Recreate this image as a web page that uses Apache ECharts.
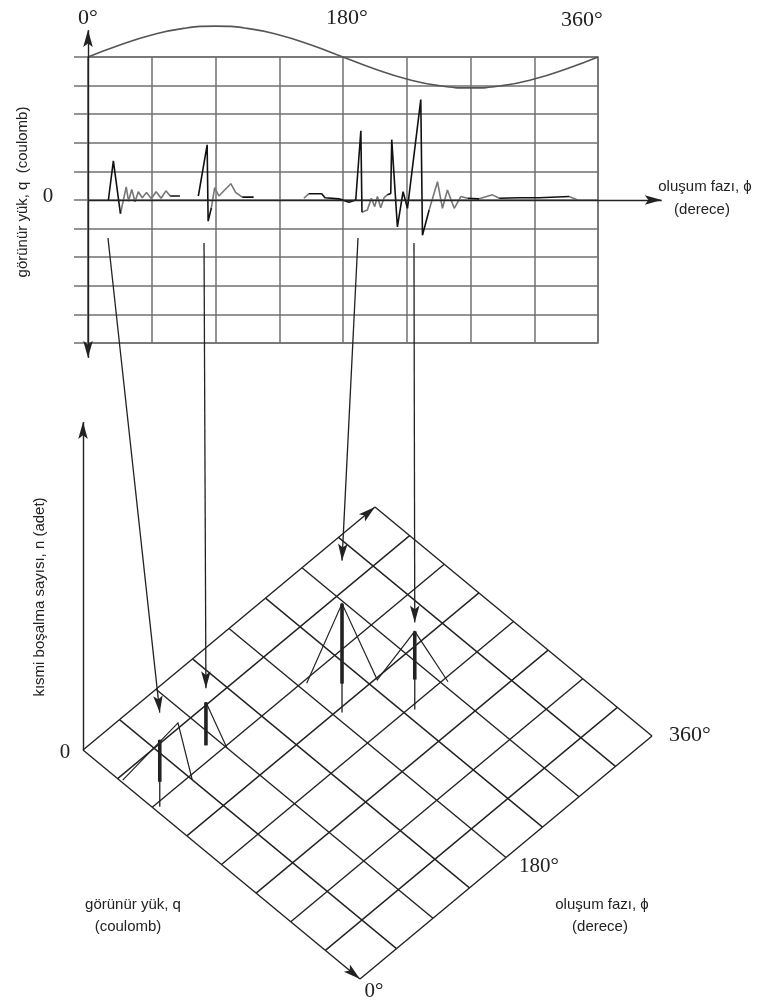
<!DOCTYPE html>
<html>
<head>
<meta charset="utf-8">
<script src="https://cdn.jsdelivr.net/npm/echarts/dist/echarts.min.js"></script>
<style>
html,body{margin:0;padding:0;background:#fff;}
#container{width:762px;height:1005px;}
</style>
</head>
<body>
<div id="container"></div>
<script>
// reference sine (in grid divisions above the top line), read every 22.5 deg
var sinePhase = [0,22.5,45,67.5,90,112.5,135,157.5,180,202.5,225,247.5,270,292.5,315,337.5,360];
var sineRef   = [0,0.42,0.77,1.0,1.08,1.0,0.77,0.42,0,-0.42,-0.77,-1.0,-1.08,-1.0,-0.77,-0.42,0];

// top trace, [phase deg, charge div]
var pulseBlack = [
  [[14.4,0],[17.9,1.37],[22.9,-0.48]],
  [[58,0.14],[64.9,0.14]],
  [[77.9,0.14],[84.1,1.93],[84.8,-0.74],[87.1,-0.27]],
  [[108.9,0.1],[116.9,0.1]],
  [[155.9,0.22],[165,0.22],[167.3,0.08],[177.2,0.04],[184.2,-0.08],[189,0],[192.6,2.42],[193.4,-0.43]],
  [[211.3,0.18],[213.7,0.23],[214.4,2.11],[218.4,-0.94],[222.4,0.29],[225.5,-0.29],[234.9,3.51],[236.1,-1.23],[240.8,-0.35]],
  [[267.9,0.06],[276.1,0.04]],
  [[290.3,0.06],[304.4,0.08],[318.5,0.08],[339.7,0.12]]
];
var pulseGray = [
  [[22.9,-0.48],[27,0.46],[28.6,-0.04],[30.9,0.37],[33.2,-0.06],[35.5,0.29],[38.3,0.08],[41.3,0.26],[44.7,0.05],[48.1,0.29],[51.6,0.06],[55,0.32],[58,0.14]],
  [[87.1,-0.27],[89.4,0.43],[92.4,0.14],[100.8,0.57],[104.3,0.26],[108.9,0.1]],
  [[152.4,0.06],[155.9,0.22]],
  [[193.4,-0.43],[197.2,-0.35],[200,0.06],[202.4,-0.23],[204.3,0.12],[206.6,-0.27],[209,0.08],[211.3,0.18]],
  [[240.8,-0.35],[246.7,0.64],[250.2,-0.29],[253.7,0.35],[258.5,-0.29],[263.2,0.12],[267.9,0.06]],
  [[276.1,0.04],[285.5,0.18],[290.3,0.06]],
  [[339.7,0.12],[345.6,0]]
];

// 3d part: phase deg, charge cell (0..8), count n
var stickPhase    = [5, 79, 187, 234];
var stickCharge   = [2.1, 1.7, 3.1, 4.1];
var stickCount    = [2.04, 1.31, 3.32, 2.38];
var stickThickLow = [0.76, 0, 0.88, 0.91];
var envelopes = [
  [[2,1.1,0],[42,1.76,1.5],[45,2.1,0]],
  [[79,1.7,1.31],[90,2.05,0]],
  [[187,2.08,0],[187,3.1,3.32],[233,3.04,0],[234,4.1,2.38],[275,4.1,0]]
];
// arrows: from top [phase, charge] to bottom [phase, charge, n]
var arrowFrom = [[14.1,-1.33],[81.9,-1.5],[190.6,-1.33],[230.1,-1.5]];
var arrowTo   = [[5,2.1,2.87],[79,1.7,1.74],[187,3.1,4.63],[234,4.1,2.65]];

var phaseCells = 8, chargeCells = 8, nMax = 10;

// oblique projection of the base plane
var orig = [83, 750], phVec = [292/360, -243/360], qVec = [34.625, 28.625], nPx = 32.8;
function proj(p){
  return [orig[0] + p[0]*phVec[0] + p[1]*qVec[0],
          orig[1] + p[0]*phVec[1] + p[1]*qVec[1] - p[2]*nPx];
}

var myChart = echarts.init(document.getElementById('container'));
var gridColor = '#707070', ink = '#222';
// slim arrow head with its tip at the centre of a padded square box
var arrowHead = 'path://M0,0 M32,32 M16,16 L20.5,32 L16,28.5 L11.5,32 Z';

function traceSeries(segs, color){
  return segs.map(function(s){
    return {type:'line', xAxisIndex:0, yAxisIndex:0, data:s, symbol:'none', silent:true, z:3,
      lineStyle:{color:color, width:1.6}};
  });
}

var option = {
  animation:false,
  backgroundColor:'#fff',
  grid:[
    {left:88, top:57, width:510, height:286, show:true, borderColor:gridColor, borderWidth:1.5},
    {left:0, top:0, width:762, height:1005}
  ],
  xAxis:[
    {type:'value', gridIndex:0, min:0, max:360, interval:45,
      axisLine:{show:false}, axisTick:{show:false}, axisLabel:{show:false},
      splitLine:{lineStyle:{color:gridColor, width:1.5}}},
    {type:'value', gridIndex:1, min:0, max:762, show:false}
  ],
  yAxis:[
    {type:'value', gridIndex:0, min:-5, max:5, interval:1,
      axisLine:{show:false}, axisLabel:{show:false},
      axisTick:{show:true, length:14, lineStyle:{color:gridColor, width:1.5}},
      splitLine:{lineStyle:{color:gridColor, width:1.5}}},
    {type:'value', gridIndex:1, min:0, max:1005, inverse:true, show:false}
  ],
  series:[
    {type:'line', xAxisIndex:0, yAxisIndex:0, smooth:true, symbol:'none', clip:false, silent:true,
      data:sinePhase.map(function(p,i){ return [p, 5 + sineRef[i]]; }),
      lineStyle:{color:'#555', width:1.6}}
  ].concat(traceSeries(pulseGray, '#777')).concat(traceSeries(pulseBlack, '#111'))
};
myChart.setOption(option);

function topPx(p){ return myChart.convertToPixel({gridIndex:0}, p); }

function linesSeries(list, width, arrow, z){
  return {type:'lines', coordinateSystem:'cartesian2d', xAxisIndex:1, yAxisIndex:1,
    polyline:!arrow, silent:true, z:z,
    symbol: arrow ? ['none', arrowHead] : 'none', symbolSize: [1, 34],
    itemStyle:{color:ink},
    lineStyle:{color:ink, width:width, opacity:1},
    data:list.map(function(c){ return {coords:c}; })};
}

// base grid
var baseLines = [];
for (var i = 1; i <= chargeCells; i++) baseLines.push([proj([0,i,0]), proj([360,i,0])]);
for (var j = 1; j <= phaseCells; j++) baseLines.push([proj([j*360/phaseCells,0,0]), proj([j*360/phaseCells,chargeCells,0])]);
var baseArrows = [
  [proj([0,0,0]), proj([360,0,0])],
  [proj([0,0,0]), proj([0,chargeCells,0])],
  [proj([0,0,0]), proj([0,0,nMax])]
];

// top axes
var topAxes = [
  [topPx([0,0]), topPx([405,0])],
  [topPx([0,0]), topPx([0,5.94])],
  [topPx([0,0]), topPx([0,-5.52])]
];

var thin = [], thick = [];
for (var k = 0; k < stickPhase.length; k++){
  thin.push([proj([stickPhase[k],stickCharge[k],0]), proj([stickPhase[k],stickCharge[k],stickCount[k]])]);
  thick.push([proj([stickPhase[k],stickCharge[k],stickThickLow[k]]), proj([stickPhase[k],stickCharge[k],stickCount[k]])]);
}
var env = envelopes.map(function(e){ return e.map(proj); });
var longArrows = arrowFrom.map(function(a, i){ return [topPx(a), proj(arrowTo[i])]; });

myChart.setOption({
  series: option.series.concat([
    linesSeries(baseLines, 1.4, false, 2),
    linesSeries(baseArrows, 1.4, true, 2),
    linesSeries(topAxes, 1.4, true, 4),
    linesSeries(env, 1.2, false, 3),
    linesSeries(thin, 1.3, false, 3),
    linesSeries(thick, 3.6, false, 3),
    linesSeries(longArrows, 1.3, true, 4)
  ]),
  graphic:[
    {type:'text', x:88, y:18, style:{text:'0°', font:'22px "Liberation Serif"', fill:ink, align:'center', verticalAlign:'middle'}},
    {type:'text', x:347, y:18, style:{text:'180°', font:'22px "Liberation Serif"', fill:ink, align:'center', verticalAlign:'middle'}},
    {type:'text', x:582, y:20, style:{text:'360°', font:'22px "Liberation Serif"', fill:ink, align:'center', verticalAlign:'middle'}},
    {type:'text', x:48, y:196, style:{text:'0', font:'21px "Liberation Serif"', fill:ink, align:'center', verticalAlign:'middle'}},
    {type:'text', x:23, y:192, rotation:Math.PI/2, style:{text:'görünür yük, q  (coulomb)', font:'15px "Liberation Sans"', fill:ink, align:'center', verticalAlign:'middle'}},
    {type:'text', x:705, y:187, style:{text:'oluşum fazı, ϕ', font:'15px "Liberation Sans"', fill:ink, align:'center', verticalAlign:'middle'}},
    {type:'text', x:702, y:210, style:{text:'(derece)', font:'15px "Liberation Sans"', fill:ink, align:'center', verticalAlign:'middle'}},
    {type:'text', x:40, y:597, rotation:Math.PI/2, style:{text:'kısmi boşalma sayısı, n (adet)', font:'15px "Liberation Sans"', fill:ink, align:'center', verticalAlign:'middle'}},
    {type:'text', x:65, y:752, style:{text:'0', font:'21px "Liberation Serif"', fill:ink, align:'center', verticalAlign:'middle'}},
    {type:'text', x:133, y:905, style:{text:'görünür yük, q', font:'15px "Liberation Sans"', fill:ink, align:'center', verticalAlign:'middle'}},
    {type:'text', x:128, y:927, style:{text:'(coulomb)', font:'15px "Liberation Sans"', fill:ink, align:'center', verticalAlign:'middle'}},
    {type:'text', x:602, y:905, style:{text:'oluşum fazı, ϕ', font:'15px "Liberation Sans"', fill:ink, align:'center', verticalAlign:'middle'}},
    {type:'text', x:600, y:927, style:{text:'(derece)', font:'15px "Liberation Sans"', fill:ink, align:'center', verticalAlign:'middle'}},
    {type:'text', x:690, y:735, style:{text:'360°', font:'22px "Liberation Serif"', fill:ink, align:'center', verticalAlign:'middle'}},
    {type:'text', x:539, y:866, style:{text:'180°', font:'21px "Liberation Serif"', fill:ink, align:'center', verticalAlign:'middle'}},
    {type:'text', x:374, y:991, style:{text:'0°', font:'21px "Liberation Serif"', fill:ink, align:'center', verticalAlign:'middle'}}
  ]
});
</script>
</body>
</html>
